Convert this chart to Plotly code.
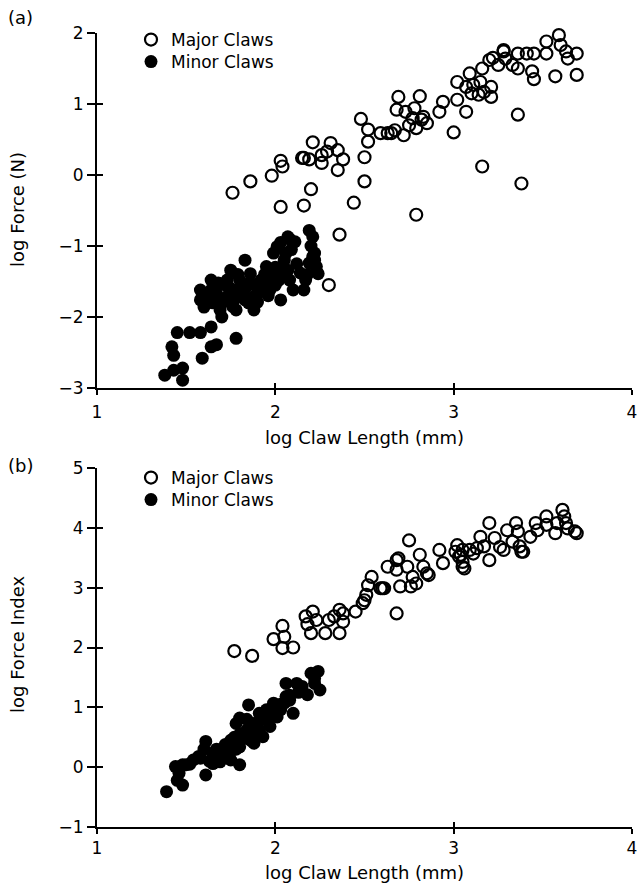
import plotly.graph_objects as go

# ---------------- data ----------------
# Panel (a): log Force (N) vs log Claw Length (mm)
major_a_x = [1.76, 1.86, 1.98, 2.03, 2.04, 2.03, 2.16, 2.20, 2.21, 2.16, 2.19, 2.26, 2.31, 2.29, 2.35,
             2.38, 2.35, 2.50, 2.50, 2.44, 2.36, 2.30, 2.48, 2.52, 2.52, 2.59, 2.65, 2.68, 2.63, 2.67,
             2.72, 2.69, 2.81, 2.73, 2.77, 2.78, 2.82, 2.83, 2.79, 2.75, 2.85, 2.92, 2.94, 3.02, 3.07,
             3.00, 3.02, 3.09, 3.07, 3.11, 3.15, 3.17, 3.21, 3.21, 3.14, 3.10, 3.16, 3.20, 3.25, 3.28,
             3.29, 3.33, 3.36, 3.36, 3.41, 3.45, 3.52, 3.52, 3.59, 3.60, 3.63, 3.64, 3.69, 3.44, 3.45,
             3.57, 3.69, 3.36, 3.16, 3.38, 2.79, 2.15, 2.26, 3.22, 3.28]
major_a_y = [-0.25, -0.09, -0.01, 0.20, 0.12, -0.45, -0.43, -0.20, 0.46, 0.24, 0.22, 0.17, 0.45, 0.33, 0.35,
             0.22, 0.07, 0.25, -0.09, -0.39, -0.84, -1.55, 0.79, 0.64, 0.47, 0.59, 0.59, 0.92, 0.59, 0.63,
             0.56, 1.10, 1.11, 0.89, 0.80, 0.94, 0.78, 0.82, 0.66, 0.70, 0.73, 0.89, 1.03, 1.06, 0.89,
             0.60, 1.31, 1.43, 1.24, 1.27, 1.31, 1.17, 1.24, 1.10, 1.13, 1.15, 1.50, 1.62, 1.55, 1.74,
             1.64, 1.55, 1.50, 1.71, 1.71, 1.71, 1.71, 1.88, 1.97, 1.83, 1.74, 1.64, 1.71, 1.46, 1.35,
             1.39, 1.41, 0.85, 0.12, -0.12, -0.56, 0.24, 0.28, 1.65, 1.76]

minor_a_x = [1.38, 1.43, 1.48, 1.48, 1.42, 1.43, 1.45, 1.52, 1.58, 1.59, 1.64, 1.67, 1.78, 1.64, 1.58,
             1.60, 1.64, 1.67, 1.69, 1.70, 1.73, 1.75, 1.77, 1.80, 1.83, 1.84, 1.88, 1.90, 1.92, 1.95,
             1.99, 2.01, 2.05, 2.07, 2.11, 2.02, 2.03, 2.08, 2.10, 2.07, 1.97, 1.93, 2.19, 2.21, 2.22,
             2.23, 2.24, 2.19, 2.17, 2.16, 2.21, 1.77, 1.73, 1.86, 1.80, 1.88, 1.95, 1.99, 1.67, 1.64,
             1.58, 1.72, 1.83, 1.90, 1.78, 1.62, 1.68, 1.74, 1.79, 1.82, 1.86, 1.90, 1.94, 1.97, 2.00,
             2.04, 2.06, 2.09, 2.12, 2.14, 2.00, 1.96, 1.85, 1.76, 1.70, 1.65, 2.03, 2.08, 2.20, 2.22,
             2.18]
minor_a_y = [-2.82, -2.75, -2.72, -2.89, -2.42, -2.54, -2.22, -2.22, -2.22, -2.58, -2.42, -2.39, -2.30, -2.14, -1.76,
             -1.86, -1.48, -1.67, -1.90, -2.00, -1.48, -1.34, -1.62, -1.48, -1.20, -1.57, -1.90, -1.67, -1.48, -1.29,
             -1.10, -1.01, -1.20, -0.87, -0.94, -1.48, -1.76, -1.48, -1.62, -1.34, -1.62, -1.48, -0.78, -0.87, -1.10,
             -1.29, -1.39, -1.24, -1.48, -1.62, -1.15, -1.76, -1.71, -1.39, -1.62, -1.71, -1.57, -1.34, -1.57, -1.62,
             -1.62, -1.55, -1.76, -1.79, -1.90, -1.70, -1.52, -1.58, -1.40, -1.66, -1.52, -1.58, -1.40, -1.45, -1.30,
             -1.35, -1.10, -1.05, -1.25, -1.38, -1.55, -1.70, -1.80, -1.85, -1.80, -1.80, -0.95, -0.90, -1.00, -1.20,
             -1.40]

# Panel (b): log Force Index vs log Claw Length (mm)
major_b_x = [1.77, 1.87, 1.99, 2.04, 2.05, 2.04, 2.10, 2.17, 2.18, 2.20, 2.21, 2.23, 2.28, 2.30, 2.33,
             2.36, 2.36, 2.38, 2.45, 2.49, 2.51, 2.52, 2.54, 2.60, 2.63, 2.68, 2.68, 2.61, 2.69, 2.75,
             2.68, 2.70, 2.74, 2.77, 2.79, 2.81, 2.83, 2.86, 2.76, 2.92, 2.94, 3.02, 3.04, 3.06, 3.05,
             3.09, 3.13, 3.15, 3.20, 3.20, 3.17, 3.23, 3.28, 3.30, 3.33, 3.35, 3.36, 3.37, 3.39, 3.43,
             3.46, 3.47, 3.52, 3.52, 3.57, 3.58, 3.61, 3.62, 3.63, 3.64, 3.69, 3.05, 3.03, 3.11, 3.01,
             2.85, 3.05, 3.26, 3.38, 3.68, 2.59, 2.50, 2.38]
major_b_y = [1.94, 1.86, 2.14, 2.36, 2.18, 1.99, 2.00, 2.52, 2.39, 2.24, 2.60, 2.46, 2.24, 2.46, 2.52,
             2.63, 2.24, 2.43, 2.60, 2.74, 2.88, 3.04, 3.18, 2.99, 3.35, 3.46, 2.57, 2.99, 3.49, 3.79,
             3.30, 3.02, 3.35, 3.18, 3.07, 3.55, 3.35, 3.21, 3.02, 3.63, 3.41, 3.71, 3.55, 3.32, 3.63,
             3.63, 3.66, 3.85, 4.08, 3.46, 3.69, 3.83, 3.63, 3.96, 3.77, 4.08, 3.94, 3.69, 3.60, 3.85,
             4.08, 3.96, 4.19, 4.05, 3.91, 4.08, 4.30, 4.19, 4.08, 3.99, 3.91, 3.43, 3.52, 3.57, 3.60,
             3.24, 3.35, 3.68, 3.60, 3.94, 2.99, 2.79, 2.57]

minor_b_x = [1.39, 1.44, 1.45, 1.48, 1.50, 1.54, 1.61, 1.61, 1.65, 1.69, 1.75, 1.80, 1.75, 1.76, 1.78,
             1.84, 1.85, 1.88, 1.91, 1.91, 1.95, 1.99, 2.01, 2.06, 2.10, 2.08, 2.12, 2.18, 2.20, 2.24,
             2.25, 2.22, 2.05, 1.97, 1.86, 1.69, 1.58, 1.65, 1.73, 1.80, 1.88, 1.93, 1.80, 1.95, 2.03,
             2.06, 1.48, 1.52, 1.57, 1.63, 1.67, 1.70, 1.72, 1.77, 1.80, 1.82, 1.86, 1.89, 1.93, 1.97,
             2.00, 2.03, 2.08, 2.13, 2.15, 2.22, 1.74, 1.78, 1.84, 1.90, 1.60, 1.46]
minor_b_y = [-0.41, 0.01, -0.22, -0.30, 0.04, 0.12, -0.13, 0.43, 0.23, 0.09, 0.45, 0.04, 0.12, 0.29, 0.73,
             0.62, 1.04, 0.40, 0.62, 0.90, 0.79, 1.07, 0.84, 1.40, 0.90, 1.12, 1.40, 1.21, 1.57, 1.60,
             1.29, 1.40, 1.07, 0.68, 0.45, 0.29, 0.15, 0.06, 0.23, 0.34, 0.73, 0.51, 0.82, 0.96, 0.96,
             1.18, 0.04, 0.05, 0.18, 0.10, 0.30, 0.20, 0.38, 0.50, 0.55, 0.48, 0.62, 0.72, 0.80, 0.88,
             0.95, 1.05, 1.20, 1.25, 1.35, 1.48, 0.15, 0.30, 0.80, 0.55, 0.30, -0.10]

x_ticks = [1, 2, 3, 4]
ya_ticks = [-3, -2, -1, 0, 1, 2]
yb_ticks = [-1, 0, 1, 2, 3, 4, 5]

# ---------------- styling ----------------
W, H = 639, 886
FONT = "DejaVu Sans"
TITLE_FS = 18
LEG_FS = 17


def px_x(p):
    return p / W


def px_y(p):
    return 1 - p / H


fig = go.Figure()

open_marker = dict(symbol="circle-open", size=12, color="black", line=dict(width=2.2, color="black"))
fill_marker = dict(symbol="circle", size=13, color="black", line=dict(width=0))

fig.add_trace(go.Scatter(x=major_a_x, y=major_a_y, mode="markers", marker=open_marker,
                         name="Major Claws", xaxis="x", yaxis="y", legend="legend", cliponaxis=False))
fig.add_trace(go.Scatter(x=minor_a_x, y=minor_a_y, mode="markers", marker=fill_marker,
                         name="Minor Claws", xaxis="x", yaxis="y", legend="legend2", cliponaxis=False))
fig.add_trace(go.Scatter(x=major_b_x, y=major_b_y, mode="markers", marker=open_marker,
                         name="Major Claws", xaxis="x2", yaxis="y2", legend="legend3", cliponaxis=False))
fig.add_trace(go.Scatter(x=minor_b_x, y=minor_b_y, mode="markers", marker=fill_marker,
                         name="Minor Claws", xaxis="x2", yaxis="y2", legend="legend4", cliponaxis=False))

xdom = [px_x(97), px_x(632)]
ya_dom = [px_y(388), px_y(33)]
yb_dom = [px_y(827), px_y(468)]

tickfont = dict(family=FONT, size=17, color="black")
common = dict(showgrid=False, zeroline=False, showline=True, linecolor="black", linewidth=2,
              ticks="outside", tickcolor="black", tickwidth=2, tickfont=tickfont, mirror=False,
              automargin=False)

inner = dict(ticks="inside", tickwidth=2, tickcolor="black", showticklabels=False, showgrid=False,
             zeroline=False, showline=False, automargin=False)


def leg(top_px):
    return dict(x=px_x(131), y=px_y(top_px), xanchor="left", yanchor="top", bgcolor="rgba(0,0,0,0)",
                font=dict(family=FONT, size=LEG_FS, color="black"), itemwidth=30)


fig.update_layout(
    width=W, height=H,
    margin=dict(l=0, r=0, t=0, b=0, pad=0, autoexpand=False),
    paper_bgcolor="white", plot_bgcolor="white",
    font=dict(family=FONT, size=TITLE_FS, color="black"),
    xaxis=dict(domain=xdom, range=[1, 4], tickvals=x_ticks, ticklen=5, ticklabelstandoff=3, anchor="y", **common),
    yaxis=dict(domain=ya_dom, range=[-3, 2], tickvals=ya_ticks, ticklen=8, anchor="x", **common),
    xaxis2=dict(domain=xdom, range=[1, 4], tickvals=x_ticks, ticklen=5, ticklabelstandoff=0, anchor="y2", **common),
    yaxis2=dict(domain=yb_dom, range=[-1, 5], tickvals=yb_ticks, ticklen=8, anchor="x2", **common),
    # overlay axes drawing the inner half of the crossing tick marks
    xaxis3=dict(overlaying="x", anchor="y", range=[1, 4], tickvals=x_ticks, ticklen=5, **inner),
    yaxis3=dict(overlaying="y", anchor="x", range=[-3, 2], tickvals=ya_ticks, ticklen=6, **inner),
    xaxis4=dict(overlaying="x2", anchor="y2", range=[1, 4], tickvals=x_ticks, ticklen=5, **inner),
    yaxis4=dict(overlaying="y2", anchor="x2", range=[-1, 5], tickvals=yb_ticks, ticklen=6, **inner),
    legend=leg(22),
    legend2=leg(44),
    legend3=leg(460),
    legend4=leg(482),
    showlegend=True,
)

# empty traces so the overlay axes are drawn
fig.add_trace(go.Scatter(x=[None], y=[None], xaxis="x3", yaxis="y3", showlegend=False, hoverinfo="skip"))
fig.add_trace(go.Scatter(x=[None], y=[None], xaxis="x4", yaxis="y4", showlegend=False, hoverinfo="skip"))


def ann(text, xp, yp, angle=0, size=TITLE_FS):
    return dict(text=text, x=px_x(xp), y=px_y(yp), xref="paper", yref="paper", showarrow=False,
                xanchor="center", yanchor="middle", textangle=angle,
                font=dict(family=FONT, size=size, color="black"))


annotations = [
    ann("(a)", 20, 17, size=18),
    ann("(b)", 20, 466, size=18),
    ann("log Claw Length (mm)", 364, 437),
    ann("log Claw Length (mm)", 364, 872),
    ann("log Force (N)", 17, 210, angle=-90),
    ann("log Force Index", 17, 645, angle=-90),
]
fig.update_layout(annotations=annotations)

fig.write_html("out.html")
